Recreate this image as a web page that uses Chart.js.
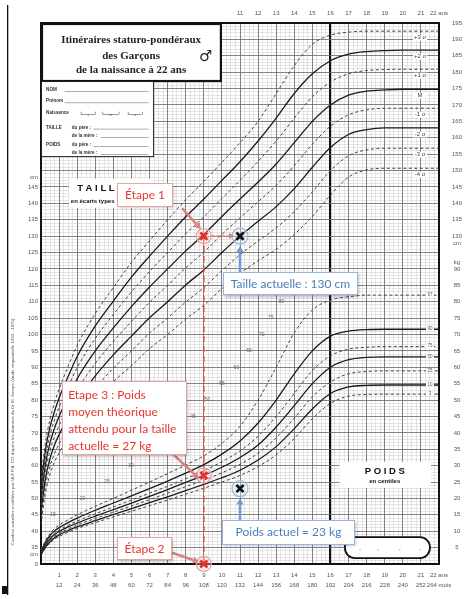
<!DOCTYPE html>
<html><head><meta charset="utf-8">
<script src="https://cdn.jsdelivr.net/npm/chart.js@4.4.1/dist/chart.umd.min.js"></script>
<style>html,body{margin:0;padding:0;background:#fff;}canvas{display:block;}</style>
</head><body>
<canvas id="c" width="469" height="599"></canvas>
<script>
// ---------- DATA ----------
const ages = [0,0.25,0.5,0.75,1,1.5,2,3,4,5,6,7,8,9,10,11,12,13,14,15,16,17,18,19,20,21,22];

// Taille (cm) en écarts types
const heightPlus3  = [56,67.1,74.2,79.2,83.4,90.3,96.7,106.4,114.3,122,128.6,135,141.1,146.7,152.5,158.5,165,173.5,182,188.5,191.3,192.2,192.5,192.5,192.5,192.5,192.5];
const heightPlus2  = [54,64.9,71.8,76.6,80.6,87.2,93.3,102.6,110.2,117.5,123.9,130,135.9,141.3,147,152.7,159,166,173.5,179.5,183.5,185.5,186.3,186.6,186.7,186.7,186.7];
const heightPlus1  = [52,62.7,69.4,74,77.8,84.1,89.9,98.8,106.1,113,119.2,125,130.7,135.9,141.5,147,152.8,159,166,172.5,177,179.5,180.5,180.8,180.9,180.9,180.9];
const heightMean   = [50,60.5,67,71.5,75,81,86.5,95,102,108.5,114.5,120,125.5,130.5,136,141.3,146.5,152,158.5,165,170,173,174.2,174.6,174.8,174.8,174.8];
const heightMinus1 = [48,58.3,64.6,69,72.2,77.9,83.1,91.2,97.9,104,109.8,115,120.3,125.1,130.5,135.6,140.5,145.5,151.5,158,163.5,167,168.5,169,169,169,169];
const heightMinus2 = [46,56.1,62.2,66.4,69.4,74.8,79.7,87.4,93.8,99.5,105.1,110,115.1,119.7,125,130,134.5,139,144.5,151,157,161,162.5,163,163,163,163];
const heightMinus3 = [44,53.9,59.8,63.8,66.6,71.7,76.3,83.6,89.7,95,100.4,105,109.9,114.3,119.5,124.3,128.5,132.5,137.5,143.5,150,154.5,156.3,156.8,156.8,156.8,156.8];
const heightMinus4 = [42,51.7,57.4,61.2,63.8,68.6,72.9,79.8,85.6,90.5,95.7,100,104.7,108.9,114,118.6,122.5,126,130.5,136,142.5,148,150.2,150.7,150.7,150.7,150.7];
const heightLabels = ['+3 σ','+2 σ','+1 σ','M','-1 σ','-2 σ','-3 σ','-4 σ'];

// Poids (kg) en centiles
const weightP97 = [4.2,7.2,9.3,10.8,11.9,13.5,15,17.6,20,22.5,25,27.6,30.2,33,36.8,42,50,60,70.5,77.5,80.5,81.5,82,82,82,82,82];
const weightP90 = [3.9,6.7,8.7,10.1,11.1,12.6,14,16.4,18.6,20.8,23,25.3,27.7,30.3,33.5,37.5,43,50,58,65,69.5,71,71.5,71.6,71.6,71.6,71.6];
const weightP75 = [3.6,6.2,8.1,9.4,10.4,11.8,13.1,15.3,17.4,19.5,21.6,23.7,26,28.4,31.2,34.5,39,45,52,59,63.5,65.5,66.1,66.3,66.3,66.3,66.3];
const weightP50 = [3.4,5.9,7.7,9,9.9,11.3,12.5,14.6,16.6,18.6,20.6,22.7,24.9,27,29.5,32.5,36.3,41.8,48.3,55,60,62.3,63,63.2,63.2,63.2,63.2];
const weightP25 = [3.1,5.5,7.2,8.5,9.4,10.7,11.9,13.9,15.8,17.7,19.6,21.6,23.6,25.6,27.8,30.4,33.8,38.5,44.5,51,55.5,58,58.7,58.9,58.9,58.9,58.9];
const weightP10 = [2.9,5.2,6.8,8,8.9,10.2,11.3,13.2,15.1,16.9,18.7,20.5,22.4,24.3,26.3,28.6,31.7,35.8,41.3,47.3,52,54,54.5,54.6,54.6,54.6,54.6];
const weightP3  = [2.7,4.9,6.4,7.6,8.4,9.7,10.8,12.6,14.4,16.1,17.8,19.5,21.3,23.1,25,27,29.7,33.3,38.3,44.3,49,51.2,51.7,51.8,51.8,51.8,51.8];
const weightLabels = ['97','90','75','50','25','10','3'];

// Points de l'exemple
const currentAge = 11, currentHeight = 130, currentWeight = 23;
const theoreticalAge = 9, theoreticalWeight = 27;

// Étiquettes d'axes
const yearLabels  = ['1','2','3','4','5','6','7','8','9','10','11','12','13','14','15','16','17','18','19','20','21','22 ans'];
const monthLabels = ['12','24','36','48','60','72','84','96','108','120','132','144','156','168','180','192','204','216','228','240','252','264 mois'];
const topYearValues = [11,12,13,14,15,16,17,18,19,20,21,22];
const topYearLabels = ['11','12','13','14','15','16','17','18','19','20','21','22 ans'];
const leftCmValues  = [35,40,45,50,55,60,65,70,75,80,85,90,95,100,105,110,115,120,125,130,135,140,145];
const rightCmValues = [130,135,140,145,150,155,160,165,170,175,180,185,190,195];
const rightKgValues = [5,10,15,20,25,30,35,40,45,50,55,60,65,70,75,80,85,90];
const innerKgValues = [15,20,25,30,35,40,45,50,55,60,65,70,75,80];

// ---------- CHART ----------
const FONT = '"Liberation Sans", Arial, sans-serif';
const ANN = 'Lato, "Open Sans", sans-serif';
const pts = arr => ages.map((a,i)=>({x:a,y:arr[i]}));

const datasets = [];
const redCircle = {pointStyle:'circle',pointRadius:7.5,pointBorderWidth:1.3,pointBorderColor:'#eba5a3',pointBackgroundColor:'rgba(255,228,228,0.3)',order:2,clip:false};
const blueCircle = {pointStyle:'circle',pointRadius:8,pointBorderWidth:1.3,pointBorderColor:'#9dbbe2',pointBackgroundColor:'rgba(228,238,250,0.3)',order:2,clip:false};
datasets.push(Object.assign({type:'scatter',data:[{x:theoreticalAge,y:theoreticalWeight},{x:theoreticalAge,y:0}],yAxisID:'yW'},redCircle));
datasets.push(Object.assign({type:'scatter',data:[{x:theoreticalAge,y:currentHeight}],yAxisID:'y'},redCircle));
datasets.push(Object.assign({type:'scatter',data:[{x:currentAge,y:currentHeight}],yAxisID:'y'},blueCircle));
datasets.push(Object.assign({type:'scatter',data:[{x:currentAge,y:currentWeight}],yAxisID:'yW'},blueCircle));
const redX = {pointStyle:'crossRot',pointRadius:5,pointBorderWidth:2.8,pointBorderColor:'#e8302a',order:0,clip:false};
const blackX = {pointStyle:'crossRot',pointRadius:5,pointBorderWidth:2.8,pointBorderColor:'#111',order:0,clip:false};
datasets.push(Object.assign({type:'scatter',data:[{x:theoreticalAge,y:theoreticalWeight},{x:theoreticalAge,y:0}],yAxisID:'yW'},redX));
datasets.push(Object.assign({type:'scatter',data:[{x:theoreticalAge,y:currentHeight}],yAxisID:'y'},redX));
datasets.push(Object.assign({type:'scatter',data:[{x:currentAge,y:currentHeight}],yAxisID:'y'},blackX));
datasets.push(Object.assign({type:'scatter',data:[{x:currentAge,y:currentWeight}],yAxisID:'yW'},blackX));
// red dashed vertical (Étape 1 -> Étape 2)
datasets.push({type:'line',data:[{x:theoreticalAge,y:currentHeight},{x:theoreticalAge,y:30}],yAxisID:'yW_h',
  borderColor:'#e0504a',borderWidth:1.6,borderDash:[6,4],pointRadius:0,order:3});

const hCurves = [heightPlus3,heightPlus2,heightPlus1,heightMean,heightMinus1,heightMinus2,heightMinus3,heightMinus4];
const hDashed = [true,false,true,false,true,false,true,true];
hCurves.forEach((arr,i)=>datasets.push({type:'line',data:pts(arr),yAxisID:'y',
  borderColor: hDashed[i]?'#444':'#1a1a1a',borderWidth: hDashed[i]?1:1.3,borderDash: hDashed[i]?[3,2.5]:[],
  pointRadius:0,cubicInterpolationMode:'monotone',order:5}));
const wCurves = [weightP97,weightP90,weightP75,weightP50,weightP25,weightP10,weightP3];
const wDashed = [true,false,true,false,true,false,true];
wCurves.forEach((arr,i)=>datasets.push({type:'line',data:pts(arr),yAxisID:'yW',
  borderColor: wDashed[i]?'#444':'#1a1a1a',borderWidth: wDashed[i]?1:1.3,borderDash: wDashed[i]?[3,2.5]:[],
  pointRadius:0,cubicInterpolationMode:'monotone',order:5}));

function roundRect(c,x,y,w,h,r){c.beginPath();c.moveTo(x+r,y);c.lineTo(x+w-r,y);c.arcTo(x+w,y,x+w,y+r,r);c.lineTo(x+w,y+h-r);c.arcTo(x+w,y+h,x+w-r,y+h,r);c.lineTo(x+r,y+h);c.arcTo(x,y+h,x,y+h-r,r);c.lineTo(x,y+r);c.arcTo(x,y,x+r,y,r);c.closePath();}
function noteBox(c,x1,y1,x2,y2,stroke){
  c.save();c.shadowColor='rgba(0,0,0,0.28)';c.shadowBlur=3;c.shadowOffsetX=1;c.shadowOffsetY=1.5;
  c.fillStyle='#fff';c.fillRect(x1,y1,x2-x1,y2-y1);c.restore();
  c.save();c.strokeStyle=stroke;c.lineWidth=1;c.strokeRect(Math.round(x1)+0.5,Math.round(y1)+0.5,Math.round(x2-x1)-1,Math.round(y2-y1)-1);c.restore();
}
function arrow(c,x1,y1,x2,y2,color,w,head,dash){
  const ang=Math.atan2(y2-y1,x2-x1);const bx=x2-Math.cos(ang)*head,by=y2-Math.sin(ang)*head;
  c.save();c.strokeStyle=color;c.fillStyle=color;c.lineWidth=w;if(dash)c.setLineDash(dash);
  c.beginPath();c.moveTo(x1,y1);c.lineTo(bx,by);c.stroke();c.setLineDash([]);
  const nx=Math.cos(ang+Math.PI/2)*head*0.6,ny=Math.sin(ang+Math.PI/2)*head*0.6;
  c.beginPath();c.moveTo(x2,y2);c.lineTo(bx+nx,by+ny);c.lineTo(bx-nx,by-ny);c.closePath();c.fill();c.restore();
}

const overlay = {
  id:'overlay',
  afterDatasetsDraw(chart){
    const c=chart.ctx,sx=chart.scales.x,sy=chart.scales.y,sw=chart.scales.yW;
    const X=v=>sx.getPixelForValue(v),Y=v=>sy.getPixelForValue(v),W=v=>sw.getPixelForValue(v);
    c.save();c.textBaseline='middle';
    const innerAt=[0.66,2.3,3.65,4.97,6.0,7.2,8.4,9.2,10.0,10.8,11.5,12.2,12.7,13.3];
    c.font='5px '+FONT;c.fillStyle='#666';c.textAlign='center';
    innerKgValues.forEach((v,i)=>c.fillText(String(v),X(innerAt[i]),W(v)));
    c.font='6px '+FONT;
    hCurves.forEach((arr,i)=>{const x=X(20.95),y=Y(arr[arr.length-1])+6.5;
      c.fillStyle='#fff';c.fillRect(x-7,y-3,14,6);c.fillStyle='#444';c.fillText(heightLabels[i],x,y);});
    c.font='4.5px '+FONT;
    wCurves.forEach((arr,i)=>{const x=X(21.5),y=W(arr[arr.length-1])-0.5;
      c.fillStyle='#fff';c.fillRect(x-4,y-2,8,4);c.fillStyle='#555';c.fillText(weightLabels[i]+'',x,y);});
    c.fillStyle='#fff';c.fillRect(X(1.55),Y(147.6),X(6.2)-X(1.55),Y(138.6)-Y(147.6));
    c.fillStyle='#111';c.textAlign='left';c.font='bold 9.5px '+FONT;
    c.fillText('T A I L L E',X(2.0),Y(144.7));
    c.font='bold 6px '+FONT;c.fillText('en écarts types',X(1.65),Y(140.7));
    c.fillStyle='#fff';c.fillRect(X(16.5),W(31.2),X(21.55)-X(16.5),W(23.2)-W(31.2));
    c.fillStyle='#111';c.textAlign='center';c.font='bold 9.5px '+FONT;c.fillText('P O I D S',X(19.0),W(28.4));
    c.font='bold 6px '+FONT;c.fillText('en centiles',X(19.0),W(25.3));
    c.save();c.fillStyle='#fff';roundRect(c,X(16.8),W(8.2),X(21.5)-X(16.8),W(1.8)-W(8.2),10);c.fill();
    c.strokeStyle='#111';c.lineWidth=1.8;c.stroke();c.restore();
    c.fillStyle='#999';[17.6,18.6,19.8,20.9].forEach(a=>c.fillRect(X(a),W(4.5),1.2,1));
    const tx1=X(0),ty1=Y(195),tx2=X(10.0),ty2=Y(177);
    c.fillStyle='#fff';c.fillRect(tx1,ty1,tx2-tx1,ty2-ty1);
    c.strokeStyle='#111';c.lineWidth=2.2;c.strokeRect(tx1+1,ty1+1,tx2-tx1-2,ty2-ty1-2);
    c.fillStyle='#222';c.textAlign='center';c.font='bold 11px "Liberation Serif", serif';
    c.fillText('Itinéraires staturo-pondéraux',X(4.98),Y(189.8));
    c.fillText('des Garçons',X(4.98),Y(184.9));
    c.fillText('de la naissance à 22 ans',X(4.98),Y(180.6));
    c.font='15px "DejaVu Sans", sans-serif';c.fillText('♂',X(9.1),Y(184.7));
    const ix1=X(0),iy1=Y(177),ix2=X(6.25),iy2=Y(154.1);
    c.fillStyle='#fff';c.fillRect(ix1,iy1,ix2-ix1,iy2-iy1);
    c.strokeStyle='#222';c.lineWidth=1;c.strokeRect(ix1+0.5,iy1-0.5,ix2-ix1-1,iy2-iy1);
    c.fillStyle='#333';c.textAlign='left';c.font='bold 4.6px '+FONT;
    const L=X(0.28),L2=X(1.7),R=X(5.95);
    const dots=(x1,y)=>{c.fillStyle='#777';c.fillRect(x1,y+1.5,R-x1,0.6);c.fillStyle='#333';};
    c.fillText('NOM',L,Y(174.6));dots(X(1.3),Y(174.6));
    c.fillText('Prénom',L,Y(171.2));dots(X(1.3),Y(171.2));
    c.fillText('Naissance',L,Y(167.5));
    [[2.2,3.0,'j'],[3.4,4.3,'m'],[4.8,5.6,'a']].forEach(b=>{const y=Y(167.5);c.fillStyle='#555';
      c.fillRect(X(b[0]),y+1,X(b[1])-X(b[0]),0.6);c.fillRect(X(b[0]),y-1.5,0.6,2.5);c.fillRect(X(b[1]),y-1.5,0.6,2.5);
      c.font='3px '+FONT;c.textAlign='center';c.fillText(b[2],(X(b[0])+X(b[1]))/2,y+2.5);c.textAlign='left';c.font='bold 4.6px '+FONT;c.fillStyle='#333';});
    c.fillText('TAILLE',L,Y(163.2));c.fillText('du père :',L2,Y(163.2));dots(X(2.9),Y(163.2));
    c.fillText('de la mère :',L2,Y(160.6));dots(X(3.3),Y(160.6));
    c.fillText('POIDS',L,Y(157.9));c.fillText('du père :',L2,Y(157.9));dots(X(2.9),Y(157.9));
    c.fillText('de la mère :',L2,Y(155.4));dots(X(3.3),Y(155.4));

    const red='#e8352f',redB='#e8a4a0',redA='#d9817e',blue='#4a7ebb',blueB='#9ab8dd',blueA='#6d9ad3';
    const px9=X(theoreticalAge),px11=X(currentAge);
    arrow(c,X(7.8),Y(138.5),px9-3,Y(currentHeight)-7,redA,2.6,6);
    arrow(c,px9+8,Y(currentHeight),px11-6,Y(currentHeight),redA,1.8,5,[3,2]);
    arrow(c,px11,Y(112),px11,Y(currentHeight)+10,blueA,2.6,6);
    arrow(c,X(7.3),W(33.5),px9-5,W(theoreticalWeight)+3,redA,2.6,6);
    arrow(c,px11,W(13.4),px11,W(currentWeight)+10,blueA,2.6,6);
    arrow(c,X(7.25),W(3.4),px9-5,W(0)-2,redA,2.6,6);
    c.textAlign='center';c.font='12px '+ANN;
    noteBox(c,X(4.2),Y(146.2),X(7.3),Y(138.9),redB);c.fillStyle=red;c.fillText('Étape 1',(X(4.2)+X(7.3))/2,Y(142.5));
    noteBox(c,X(10.06),Y(119.1),X(17.52),Y(112.0),blueB);c.fillStyle=blue;c.fillText('Taille actuelle : 130 cm',(X(10.06)+X(17.52))/2,Y(115.5));
    noteBox(c,X(10.0),W(13.4),X(17.36),W(5.8),blueB);c.fillStyle=blue;c.fillText('Poids actuel = 23 kg',(X(10.0)+X(17.36))/2,W(9.6));
    noteBox(c,X(4.2),W(8.2),X(7.24),W(1.2),redB);c.fillStyle=red;c.fillText('Étape 2',(X(4.2)+X(7.24))/2,W(4.6));
    noteBox(c,X(1.16),W(55.8),X(8.07),W(33.2),redB);
    c.fillStyle=red;c.textAlign='left';
    ['Etape 3 : Poids','moyen théorique','attendu pour la taille','actuelle = 27 kg'].forEach((t,i)=>c.fillText(t,X(1.5),W(51.6)+i*17));
    c.restore();
  },
  afterDraw(chart){
    const c=chart.ctx,sy=chart.scales.y,sw=chart.scales.yW;
    const Y=v=>sy.getPixelForValue(v),W=v=>sw.getPixelForValue(v);
    c.save();c.font='6px '+FONT;c.fillStyle='#555';c.textBaseline='middle';c.textAlign='center';
    const rx=chart.chartArea.right+18;
    rightCmValues.forEach(v=>c.fillText(String(v),rx,Y(v)));
    c.fillText('cm',rx,Y(130)+7);
    rightKgValues.forEach(v=>c.fillText(String(v),rx,W(v)));
    c.fillText('kg',rx,W(90)-6.5);
    c.textAlign='right';const lx=chart.chartArea.left-3;
    c.fillText('0',lx,W(0));c.fillText('cm',lx,Y(35)+6.5);c.fillText('cm',lx,Y(147.8));
    c.save();c.translate(13,432);c.rotate(-Math.PI/2);c.textAlign='center';c.font='4.4px '+FONT;c.fillStyle='#555';
    c.fillText("Courbes actuelles modifiées par l'A.F.P.A. CO d'après les données du Dr M. Sempé (étude séquentielle 1953 - 1975)",0,0);c.restore();
    c.fillStyle='#111';c.fillRect(7,5,1.3,590);c.fillRect(2,586,5,8);
    c.restore();
  }
};

new Chart(document.getElementById('c'),{
  type:'line',
  data:{datasets},
  options:{
    responsive:false,animation:false,events:[],
    plugins:{legend:{display:false},tooltip:{enabled:false}},
    layout:{padding:0},
    scales:{
      xMinor:{type:'linear',position:'bottom',min:0,max:22,ticks:{display:false,stepSize:0.25},
        grid:{color:'#d4d4d4',lineWidth:0.6,drawTicks:false,z:-3},border:{display:false},afterFit:s=>{s.height=0;}},
      yMinor:{type:'linear',position:'left',min:30,max:195,ticks:{display:false,stepSize:1},
        grid:{color:'#d4d4d4',lineWidth:0.6,drawTicks:false,z:-3},border:{display:false},afterFit:s=>{s.width=0;}},
      x:{type:'linear',position:'bottom',min:0,max:22,
        ticks:{stepSize:1,autoSkip:false,maxRotation:0,padding:6,color:'#555',font:{family:FONT,size:6,lineHeight:1.65},
          callback:v=>v>=1?[yearLabels[v-1],monthLabels[v-1]]:''},
        grid:{drawTicks:false,z:-2,color:c=>c.tick&&c.tick.value===16?'#111':'#6a6a6a',lineWidth:c=>c.tick&&c.tick.value===16?2.2:0.8},
        border:{color:'#111',width:2},afterFit:s=>{s.height=35;}},
      xTop:{type:'linear',position:'top',min:0,max:22,
        ticks:{stepSize:1,autoSkip:false,maxRotation:0,padding:6,color:'#555',font:{family:FONT,size:6},
          callback:v=>{const i=topYearValues.indexOf(v);return i>=0?topYearLabels[i]:'';}},
        grid:{display:false,drawTicks:false},border:{color:'#111',width:2},afterFit:s=>{s.height=23;}},
      y:{type:'linear',position:'left',min:30,max:195,
        ticks:{stepSize:5,autoSkip:false,padding:3,color:'#555',font:{family:FONT,size:6},
          callback:v=>leftCmValues.includes(v)?String(v):''},
        grid:{drawTicks:false,z:-2,color:'#6a6a6a',lineWidth:0.8},
        border:{color:'#111',width:2},afterFit:s=>{s.width=41;}},
      yRight:{type:'linear',position:'right',min:30,max:195,ticks:{display:false},
        grid:{display:false,drawTicks:false},border:{color:'#111',width:2},afterFit:s=>{s.width=30;}},
      yW:{type:'linear',display:false,min:0,max:165},
      yW_h:{type:'linear',display:false,min:30,max:195}
    }
  },
  plugins:[overlay]
});
</script></body></html>
